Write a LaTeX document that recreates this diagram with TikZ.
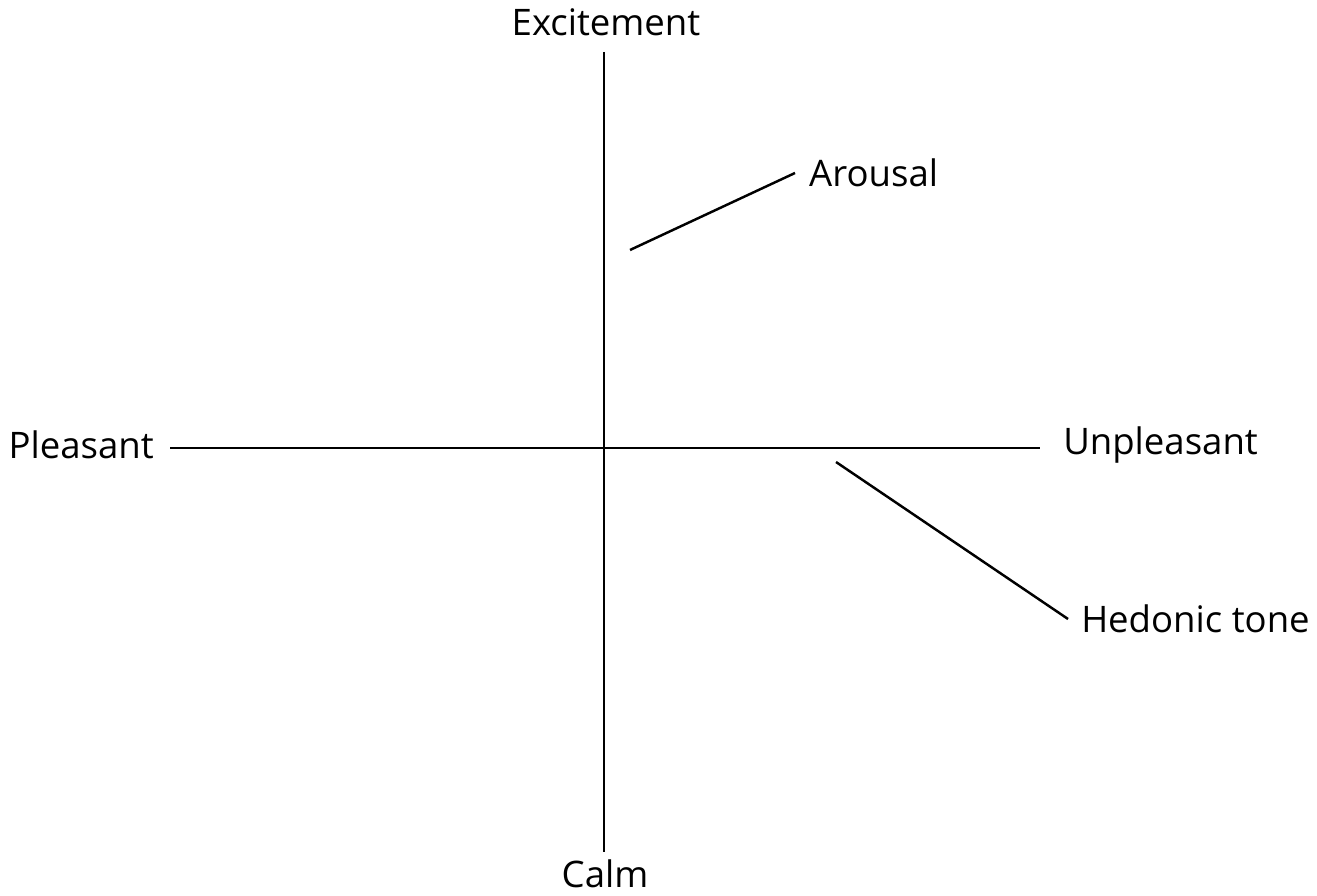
\documentclass[tikz,border=0pt]{standalone}
\usepackage{fontspec}
\setmainfont{Open Sans}
\usetikzlibrary{positioning}

\begin{document}
\begin{tikzpicture}[line width=0.7pt,
  axislabel/.style={font=\fontsize{10.4}{12}\selectfont, inner sep=0pt}]
  \useasboundingbox (0,0) rectangle (13.17,8.95);
  % axes
  \coordinate (top) at (6.04,8.43);
  \coordinate (bottom) at (6.04,0.43);
  \coordinate (left) at (1.70,4.47);
  \coordinate (right) at (10.40,4.47);
  \draw (top) -- (bottom);
  \draw (left) -- (right);
  \node[axislabel] (excite) at (6.06,8.73) {Excitement};
  \node[axislabel] (calm) at (6.05,0.21) {Calm};
  \node[axislabel, anchor=east] (pleasant) at (1.55,4.50) {Pleasant};
  \node[axislabel, anchor=west] (unpleasant) at (10.62,4.50) {Unpleasant};
  % dimension labels
  \node[axislabel, inner xsep=0.13cm, anchor=west] (arousal) at (7.95,7.22) {Arousal};
  \node[axislabel, inner xsep=0.12cm, anchor=west] (hedonic) at (10.68,2.76) {Hedonic tone};
  \coordinate (arousalend) at (6.30,6.45);
  \coordinate (hedonicend) at (8.36,4.33);
  \draw (arousalend) -- (arousal.west);
  \draw (hedonicend) -- (hedonic.west);
\end{tikzpicture}
\end{document}
